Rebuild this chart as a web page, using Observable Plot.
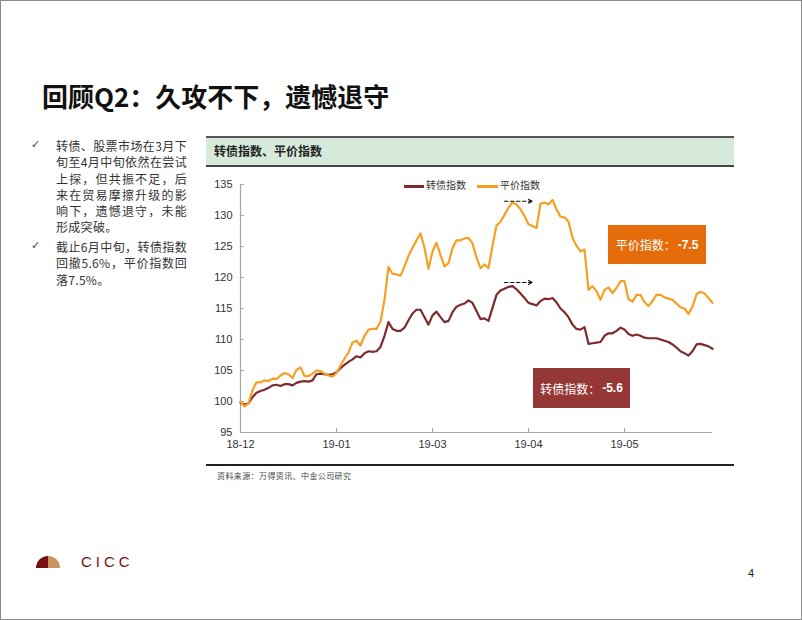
<!DOCTYPE html>
<html>
<head>
<meta charset="utf-8">
<script src="https://cdn.jsdelivr.net/npm/d3@7"></script>
<script src="https://cdn.jsdelivr.net/npm/@observablehq/plot@0.6"></script>
<style>
  html, body { margin: 0; padding: 0; background: #fff; }
  #page { position: relative; width: 802px; height: 620px; box-sizing: border-box; border: 1px solid #8a8a8a; overflow: hidden; font-family: "Noto Sans CJK SC", "Noto Sans", sans-serif; color: #222; }
  .abs { position: absolute; }
  #title { left: 41px; top: 80px; font-size: 26px; line-height: 30px; font-weight: bold; color: #111; white-space: nowrap; }
  .bul { left: 55px; width: 131px; font-size: 12px; line-height: 16.3px; color: #333; letter-spacing: 0.3px; }
  .bul div { text-align: justify; text-align-last: justify; white-space: nowrap; }
  .bul div.last { text-align-last: left; }
  .chk { left: 30px; font-family: "DejaVu Sans", sans-serif; font-size: 11px; color: #444; }
  #hdr { left: 205px; top: 135px; width: 528px; height: 27px; background: #d5eadb; border-top: 2px solid #555; border-bottom: 2px solid #444; }
  #hdr span { position: absolute; left: 8px; top: 4px; font-size: 12px; font-weight: bold; color: #222; }
  #src { left: 205px; top: 463px; width: 528px; border-top: 2px solid #222; }
  #srcTxt { left: 216px; top: 469px; font-size: 8px; color: #444; letter-spacing: 0.4px; }
  #chart { left: 200px; top: 172px; }
  .leg { font-size: 10px; color: #333; top: 178px; line-height: 12px; white-space: nowrap; }
  .legline { height: 2.5px; top: 184px; }
  .box { color: #fff; font-size: 12px; display: flex; align-items: center; justify-content: center; white-space: nowrap; }
  .box b { font-family: "Liberation Sans", Arial, sans-serif; margin-left: 2px; }
  #pnum { left: 747px; top: 566px; font-size: 11px; color: #222; font-family: "Liberation Sans", Arial, sans-serif; }
  #logoTxt { left: 80px; top: 553px; font-family: "Liberation Sans", Arial, sans-serif; font-size: 15px; line-height: 16px; letter-spacing: 4px; color: #7a0f12; }
</style>
</head>
<body>
<div id="page">
  <div id="title" class="abs">回顾Q2：久攻不下，遗憾退守</div>

  <div class="abs chk" style="top:137px">✓</div>
  <div class="abs bul" style="top:137px">
    <div>转债、股票市场在3月下</div>
    <div>旬至4月中旬依然在尝试</div>
    <div>上探，但共振不足，后</div>
    <div>来在贸易摩擦升级的影</div>
    <div>响下，遗憾退守，未能</div>
    <div class="last">形成突破。</div>
  </div>
  <div class="abs chk" style="top:238px">✓</div>
  <div class="abs bul" style="top:238px">
    <div>截止6月中旬，转债指数</div>
    <div>回撤5.6%，平价指数回</div>
    <div class="last">落7.5%。</div>
  </div>

  <div id="hdr" class="abs"><span>转债指数、平价指数</span></div>

  <div id="chart" class="abs"></div>

  <div class="abs legline" style="left:403px;width:20px;background:#7f2a2c"></div>
  <div class="abs leg" style="left:425px">转债指数</div>
  <div class="abs legline" style="left:476px;width:21px;background:#f5a023"></div>
  <div class="abs leg" style="left:499px">平价指数</div>

  <div class="abs box" style="left:607px;top:224px;width:98px;height:39px;background:#e46c0a">平价指数：<b>-7.5</b></div>
  <div class="abs box" style="left:532px;top:367px;width:97px;height:40px;background:#953735">转债指数：<b>-5.6</b></div>

  <div id="src" class="abs"></div>
  <div id="srcTxt" class="abs">资料来源：万得资讯、中金公司研究</div>

  <svg class="abs" style="left:30px;top:548px" width="40" height="20" viewBox="0 0 40 20">
    <path d="M5,19 A12,12 0 0 1 17,7 L17,19 Z" fill="#7a0f12"/>
    <path d="M17,7 A12,12 0 0 1 29,19 L17,19 Z" fill="#c9955c"/>
  </svg>
  <div id="logoTxt" class="abs">CICC</div>
  <div id="pnum" class="abs">4</div>
</div>

<script>
// Tick labels for the trading-day index axis
const xTickIdx = [0, 24, 48, 72, 96];
const xTickLabels = ["18-12", "19-01", "19-03", "19-04", "19-05"];
const yTicks = [95, 100, 105, 110, 115, 120, 125, 130, 135];

// 转债指数 (convertible bond index), rebased to 100
const convIndex = [
  99.8, 99.5, 99.7, 100.7, 101.4, 101.7, 101.9, 102.2, 102.6, 102.7,
  102.5, 102.8, 102.8, 102.6, 103.0, 103.2, 103.3, 103.2, 103.4, 104.4,
  104.5, 104.4, 104.3, 104.4, 104.7, 105.4, 105.9, 106.4, 106.8, 107.3,
  107.1, 107.8, 108.1, 108.0, 108.1, 108.8, 110.6, 112.8, 111.7, 111.4,
  111.4, 111.9, 113.1, 114.2, 114.8, 114.8, 113.6, 112.4, 113.9, 114.5,
  113.6, 112.8, 113.0, 114.4, 115.3, 115.6, 115.8, 116.3, 115.9, 114.6,
  113.3, 113.4, 113.0, 115.1, 117.2, 117.9, 118.2, 118.5, 118.6, 118.1,
  117.4, 116.7, 115.9, 115.7, 115.5, 116.2, 116.6, 116.5, 116.7, 116.0,
  115.0, 114.4, 113.6, 112.4, 111.7, 111.6, 112.0, 109.3, 109.4, 109.5,
  109.6, 110.6, 111.0, 111.0, 111.4, 111.9, 111.6, 110.9, 110.6, 110.8,
  110.6, 110.3, 110.2, 110.2, 110.2, 110.0, 109.8, 109.6, 109.2, 108.7,
  108.1, 107.8, 107.4, 108.1, 109.2, 109.3, 109.1, 108.9, 108.5
];

// 平价指数 (parity index), rebased to 100
const parityIndex = [
  100.0, 99.2, 99.7, 101.8, 103.1, 103.1, 103.4, 103.3, 103.7, 103.6,
  104.2, 104.6, 104.4, 103.8, 105.1, 105.5, 104.1, 104.1, 104.5, 105.0,
  104.9, 104.5, 104.2, 104.0, 104.6, 105.8, 106.9, 107.9, 109.5, 109.8,
  109.0, 110.6, 111.6, 111.7, 111.7, 112.9, 116.4, 121.7, 120.6, 120.5,
  120.3, 121.8, 123.5, 124.8, 126.0, 127.1, 124.8, 121.4, 124.2, 125.6,
  123.6, 121.8, 122.3, 124.7, 126.0, 126.0, 126.3, 126.4, 125.5, 123.2,
  121.5, 122.1, 121.5, 125.1, 128.4, 129.0, 130.1, 131.3, 132.1, 131.8,
  131.0, 129.9, 128.6, 128.3, 128.0, 131.9, 132.1, 131.8, 132.5, 131.0,
  129.8, 129.7, 129.0, 126.4, 125.1, 124.2, 124.5, 118.0, 118.6, 117.8,
  116.4, 118.0, 118.4, 117.5, 118.3, 119.4, 119.4, 116.5, 116.1, 117.2,
  117.2, 116.0, 115.4, 116.2, 117.2, 117.2, 116.8, 116.6, 116.4, 115.8,
  115.2, 115.0, 114.1, 115.3, 117.3, 117.7, 117.4, 116.7, 115.9
];

// Dashed arrows marking the early-April highs (start/end trading-day index)
const arrowStart = 66, arrowEnd = 73;

const idx = d3.range(convIndex.length);
const parityPeak = d3.max(parityIndex.slice(60, arrowEnd));
const convPeak = d3.max(convIndex.slice(60, arrowEnd));
const arrows = [
  {x1: arrowStart, x2: arrowEnd, y: parityPeak + 0.2},
  {x1: arrowStart, x2: arrowEnd, y: convPeak + 0.6}
];

const axisColor = "#a6a6a6";
const chart = Plot.plot({
  width: 520,
  height: 290,
  marginLeft: 39,
  marginRight: 9,
  marginTop: 11,
  marginBottom: 31,
  style: {fontFamily: "Liberation Sans, Arial, sans-serif", fontSize: "11px", color: "#333", background: "transparent", overflow: "visible"},
  x: {domain: [0, idx.length - 1]},
  y: {domain: [95, 135]},
  marks: [
    Plot.ruleX([0], {stroke: axisColor, strokeWidth: 1.2}),
    Plot.ruleY([95], {stroke: axisColor, strokeWidth: 1.2}),
    Plot.axisY({ticks: yTicks, tickSize: -4, tickPadding: 12, stroke: axisColor, label: null, fill: "#333"}),
    Plot.axisX({ticks: xTickIdx, tickFormat: (d) => xTickLabels[xTickIdx.indexOf(d)], tickSize: -4, tickPadding: 12, stroke: axisColor, label: null, fill: "#333"}),
    Plot.line(idx, {x: (i) => i, y: (i) => convIndex[i], stroke: "#7f2a2c", strokeWidth: 2.2}),
    Plot.line(idx, {x: (i) => i, y: (i) => parityIndex[i], stroke: "#f5a023", strokeWidth: 2.2}),
    Plot.arrow(arrows, {x1: "x1", x2: "x2", y1: "y", y2: "y", stroke: "#111", strokeWidth: 1.1, strokeDasharray: "3.5,2.5", headLength: 6, headAngle: 50})
  ]
});
document.getElementById("chart").appendChild(chart);
</script>
</body>
</html>
